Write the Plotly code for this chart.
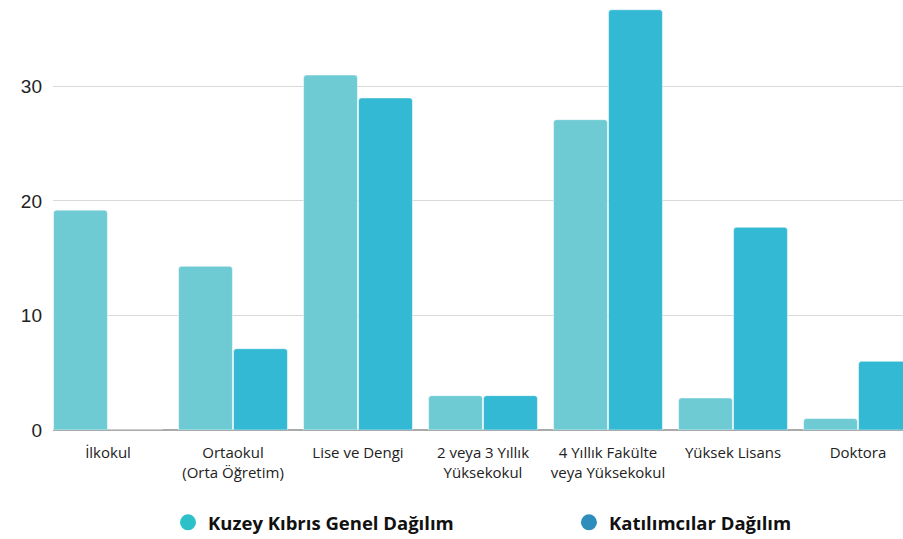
import plotly.graph_objects as go

categories = ["İlkokul", "Ortaokul<br>(Orta Öğretim)", "Lise ve Dengi",
              "2 veya 3 Yıllık<br>Yüksekokul", "4 Yıllık Fakülte<br>veya Yüksekokul",
              "Yüksek Lisans", "Doktora"]
kktc_genel = [19.2, 14.3, 31.0, 3.0, 27.1, 2.8, 1.0]
katilimcilar = [0, 7.1, 29.0, 3.0, 36.7, 17.7, 6.0]

legend_names = ["Kuzey Kıbrıs Genel Dağılım", "Katılımcılar Dağılım"]
bar_colors = ["#6ecbd4", "#34b9d4"]
legend_colors = ["#2cc0c9", "#2f8dbb"]

fig = go.Figure()
for vals, col in zip([kktc_genel, katilimcilar], bar_colors):
    fig.add_trace(go.Bar(x=categories, y=vals, marker=dict(color=col, cornerradius=3,
                         line=dict(color="rgba(255,255,255,0.5)", width=1)),
                         showlegend=False))

# legend entries drawn as circles, each in its own legend box
for name, col, lg in zip(legend_names, legend_colors, ["legend", "legend2"]):
    fig.add_trace(go.Scatter(x=[None], y=[None], mode="markers", name=name, legend=lg,
                             marker=dict(symbol="circle", size=24, color=col)))

legend_font = dict(size=18.5, family="Open Sans", weight="bold", color="#111")
fig.update_layout(
    width=903, height=539,
    margin=dict(l=53, r=0, t=0, b=109),
    plot_bgcolor="white", paper_bgcolor="white",
    barmode="group", bargap=0.12, bargroupgap=0.02,
    font=dict(family="Open Sans, sans-serif", color="#222"),
    legend=dict(x=0.1353, y=0.03, yref="container", xanchor="left", yanchor="middle",
                font=legend_font),
    legend2=dict(x=0.607, y=0.03, yref="container", xanchor="left", yanchor="middle",
                 font=legend_font),
    xaxis=dict(range=[-0.44, 6.36], showgrid=False, showline=False, ticks="",
               tickfont=dict(size=15, family="Open Sans", color="#222"),
               ticklabelstandoff=12, automargin=False, fixedrange=True),
    yaxis=dict(range=[0, 37.55], dtick=10, showgrid=True, gridcolor="#d9d9d9",
               gridwidth=1, zeroline=True, zerolinecolor="#aaaaaa", zerolinewidth=1.5,
               tickfont=dict(size=19, family="Liberation Sans, Arial", color="#222"),
               ticklabelstandoff=10, automargin=False, fixedrange=True),
)

fig.write_html("out.html", config={"displayModeBar": False},
               post_script="document.body.style.margin='0';")
